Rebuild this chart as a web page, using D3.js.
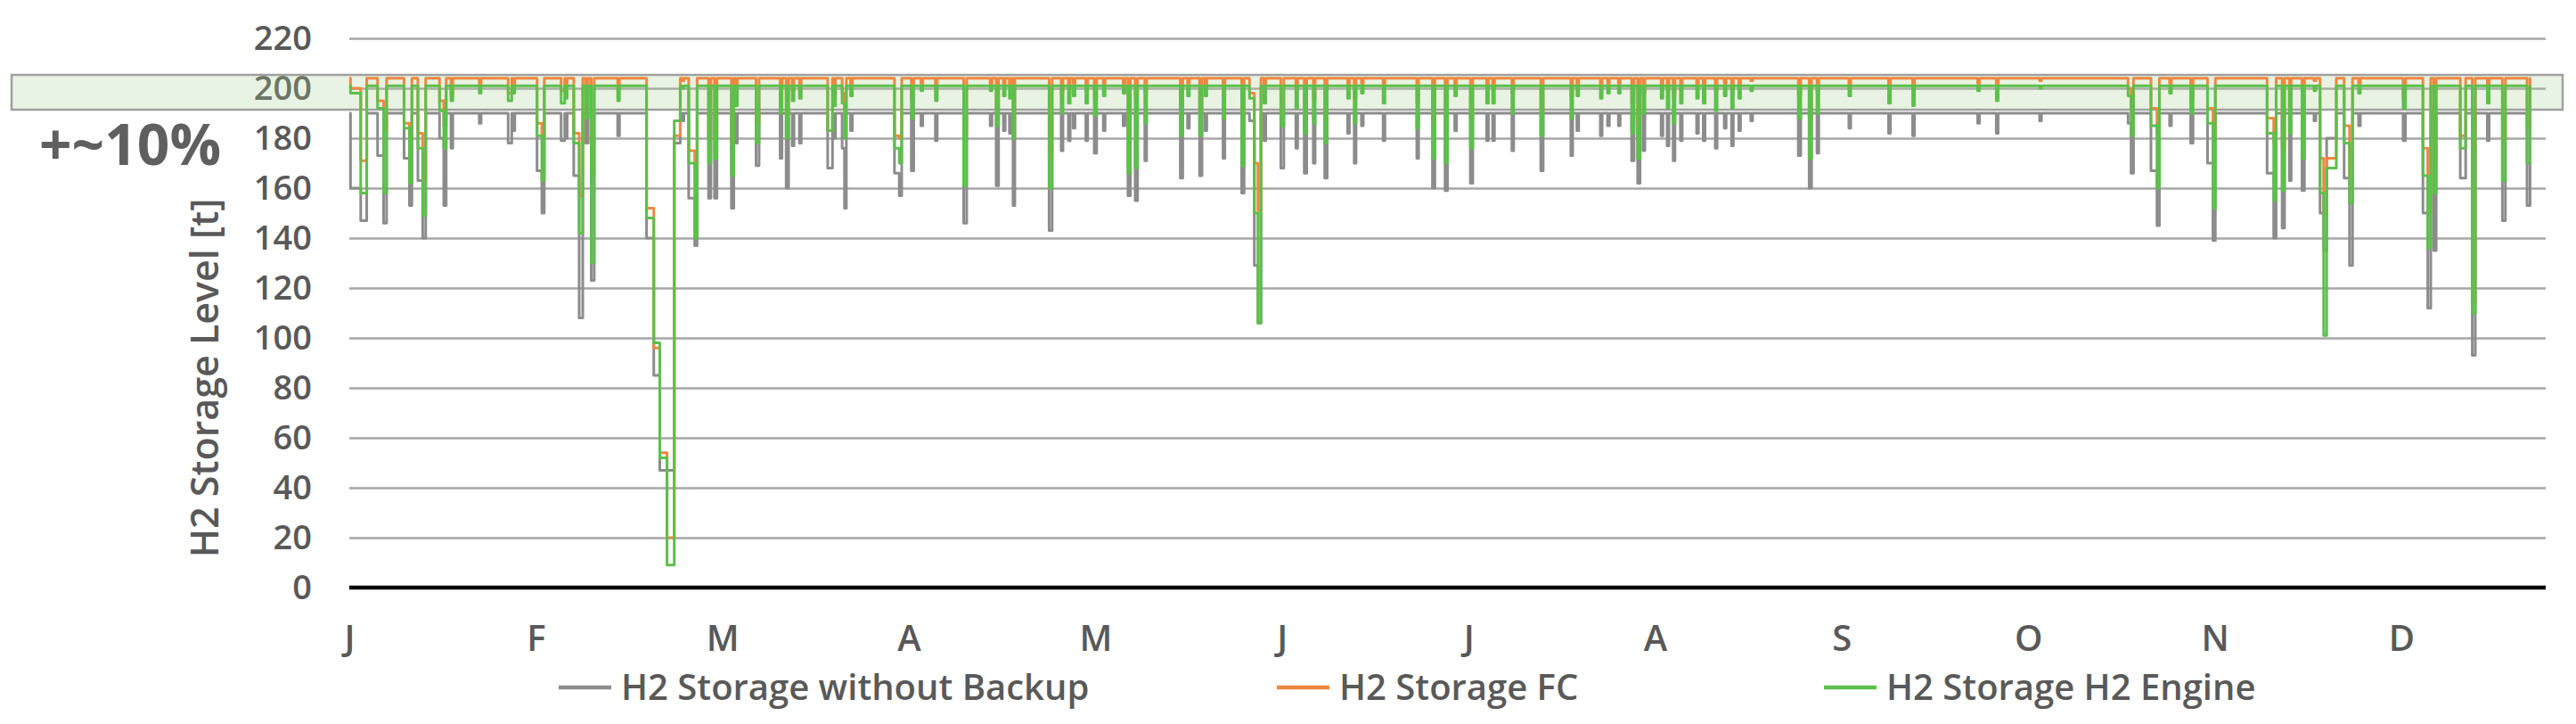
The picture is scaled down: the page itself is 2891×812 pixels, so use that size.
<!DOCTYPE html>
<html>
<head>
<meta charset="utf-8">
<script src="https://cdn.jsdelivr.net/npm/d3@7"></script>
<style>
	body { margin: 0; background: #ffffff; }
	#graphicContainer { width: 2891px; height: 812px; }
	text { font-family: "Open Sans", sans-serif; }
</style>
</head>
<body>
<div id="graphicContainer"></div>
<script>

// month labels (one every 31 days on the original date axis)
const months = ["J", "F", "M", "A", "M", "J", "J", "A", "S", "O", "N", "D"]
const monthTicks = [0, 31, 62, 93, 124, 155, 186, 217, 248, 279, 310, 341]
const yTicks = [0, 20, 40, 60, 80, 100, 120, 140, 160, 180, 200, 220]

const seriesNames = ["H2 Storage without Backup", "H2 Storage FC", "H2 Storage H2 Engine"]
// level the storage sits at between discharge events [t]
const baseLevels = [190, 204, 201]
const dataEnd = 362.5

// discharge events:
// [day, duration in days, without backup, FC, H2 engine]
const dipsJanMar = [
	[0.2, 1.7, 160, 200, 198], [1.9, 1.0, 147, 171, 158],
	[4.7, 1.0, 173, 195, 192], [5.7, 0.5, 146, 183, 158],
	[9.1, 0.9, 172, 186, 184], [10.0, 0.4, 153, 180, 162],
	[11.4, 0.8, 163, 182, 176], [12.2, 0.5, 140, 163, 149],
	[15.0, 0.7, 180, 195, 191], [15.7, 0.4, 153, 185, 176],
	[16.9, 0.3, 176, 197, 195], [21.6, 0.3, 186, 201, 198],
	[26.4, 0.6, 178, 198, 195], [27.2, 0.3, 183, 201, 198],
	[31.2, 0.8, 167, 186, 181], [32.0, 0.4, 150, 180, 163],
	[35.2, 0.6, 179, 199, 194], [35.9, 0.3, 180, 200, 196],
	[37.3, 0.9, 165, 182, 178], [38.2, 0.6, 108, 157, 142],
	[39.3, 0.4, 178, 192, 188], [40.2, 0.5, 123, 165, 130],
	[44.6, 0.3, 181, 200, 195],
	[49.4, 1.2, 140, 152, 148], [50.6, 1.0, 85, 96, 98],
	[51.6, 1.2, 47, 54, 52], [52.8, 1.2, 47, 20, 9],
	[54.0, 1.0, 178, 181, 187],
	[55.3, 0.3, 187, 203, 200],
	[56.4, 1.0, 156, 175, 170], [57.4, 0.4, 137, 168, 140],
	[59.7, 0.4, 156, 180, 170], [60.7, 0.4, 156, 182, 172],
	[63.5, 0.4, 152, 178, 165], [64.2, 0.3, 178, 198, 193],
	[67.6, 0.5, 169, 186, 178],
	[71.6, 0.3, 172, 195, 190], [72.6, 0.4, 160, 190, 180],
	[73.6, 0.3, 177, 199, 195], [74.8, 0.3, 178, 199, 196],
	[79.5, 0.8, 168, 183, 183], [80.5, 0.3, 180, 196, 193],
	[81.9, 0.4, 176, 198, 194], [82.3, 0.3, 152, 190, 180],
	[83.3, 0.3, 183, 201, 197]
]

const dipsAprJun = [
	[90.6, 0.8, 166, 181, 176], [91.4, 0.4, 157, 180, 170],
	[93.4, 0.4, 167, 195, 188], [95.0, 0.3, 185, 202, 199],
	[97.4, 0.3, 179, 199, 195], [102.1, 0.5, 146, 182, 161],
	[106.5, 0.3, 185, 202, 199], [107.5, 0.4, 161, 192, 185],
	[108.7, 0.3, 183, 201, 197], [109.7, 0.3, 182, 200, 196],
	[110.3, 0.3, 153, 190, 180],
	[116.3, 0.5, 143, 172, 160],
	[118.3, 0.3, 175, 198, 190], [119.5, 0.3, 179, 200, 194],
	[120.3, 0.3, 184, 202, 197], [122.4, 0.3, 179, 200, 194],
	[123.8, 0.4, 174, 196, 189], [125.3, 0.3, 183, 202, 197],
	[128.6, 0.3, 185, 202, 198], [129.4, 0.4, 157, 182, 166],
	[130.6, 0.4, 155, 196, 168], [132.2, 0.3, 171, 198, 186],
	[138.1, 0.4, 164, 190, 181], [139.3, 0.3, 184, 202, 197],
	[141.3, 0.4, 165, 190, 181], [142.2, 0.3, 183, 201, 197],
	[145.2, 0.3, 172, 197, 188], [148.3, 0.4, 158, 186, 169],
	[149.6, 0.8, 187, 198, 196], [150.4, 0.6, 129, 170, 150],
	[151.0, 0.5, 106, 151, 106],
	[152.0, 0.3, 179, 200, 194], [154.8, 0.5, 168, 190, 185],
	[157.3, 0.3, 176, 199, 192], [158.7, 0.4, 166, 192, 182],
	[160.2, 0.3, 170, 195, 186], [162.1, 0.4, 164, 188, 178],
	[165.9, 0.3, 182, 201, 196], [167.0, 0.3, 170, 196, 186],
	[168.2, 0.3, 185, 202, 198], [171.8, 0.3, 179, 200, 194],
	[177.4, 0.3, 172, 194, 184], [180.0, 0.4, 160, 186, 172]
]

const dipsJulSep = [
	[182.1, 0.4, 159, 185, 170], [183.7, 0.3, 183, 201, 197],
	[186.3, 0.4, 162, 188, 176], [189.0, 0.3, 179, 200, 194],
	[190.0, 0.3, 179, 200, 194], [193.2, 0.3, 175, 198, 190],
	[198.0, 0.4, 167, 190, 181], [203.0, 0.3, 173, 197, 188],
	[204.0, 0.3, 183, 201, 197], [207.9, 0.3, 181, 201, 196],
	[209.1, 0.3, 185, 202, 198], [210.9, 0.3, 185, 202, 198],
	[213.1, 0.4, 171, 194, 182], [214.1, 0.4, 162, 186, 172],
	[215.0, 0.3, 175, 198, 190], [218.0, 0.3, 181, 201, 196],
	[219.0, 0.3, 177, 199, 192], [220.0, 0.3, 171, 196, 186],
	[221.2, 0.3, 179, 200, 194], [223.9, 0.3, 182, 201, 196],
	[225.0, 0.3, 179, 200, 194], [227.0, 0.3, 176, 199, 191],
	[228.5, 0.3, 184, 202, 197], [229.7, 0.3, 177, 199, 192],
	[230.9, 0.3, 183, 201, 196], [232.9, 0.3, 187, 203, 199],
	[240.8, 0.4, 173, 197, 188],
	[242.6, 0.4, 160, 188, 172], [243.9, 0.3, 174, 198, 190],
	[249.2, 0.3, 184, 200, 197], [255.8, 0.3, 182, 200, 194],
	[259.8, 0.3, 181, 200, 193], [270.6, 0.3, 186, 202, 199],
	[273.7, 0.3, 182, 201, 195]
]

const dipsOctDec = [
	[280.9, 0.3, 187, 203, 200],
	[295.6, 0.5, 186, 200, 197], [296.1, 0.4, 166, 190, 181],
	[299.4, 1.0, 167, 192, 185], [300.4, 0.4, 145, 182, 160],
	[302.5, 0.3, 185, 202, 198], [306.0, 0.4, 178, 196, 190],
	[308.8, 0.9, 170, 192, 186], [309.7, 0.4, 139, 180, 152],
	[318.7, 1.1, 166, 188, 182], [319.8, 0.4, 140, 178, 155],
	[321.2, 0.4, 144, 176, 159], [322.4, 0.3, 163, 192, 182],
	[324.5, 0.4, 159, 190, 172], [326.5, 0.3, 187, 203, 199],
	[327.5, 0.6, 150, 172, 158], [328.1, 0.5, 135, 150, 101],
	[328.6, 1.6, 180, 172, 168],
	[331.5, 0.9, 164, 185, 178], [332.4, 0.5, 129, 165, 154],
	[333.9, 0.3, 185, 202, 198], [341.3, 0.4, 179, 196, 192],
	[344.6, 0.8, 150, 176, 165], [345.4, 0.5, 112, 150, 136],
	[346.4, 0.4, 135, 170, 158], [350.8, 0.9, 164, 181, 176],
	[352.8, 0.5, 93, 114, 110], [355.3, 0.3, 179, 200, 194],
	[357.8, 0.5, 147, 180, 163], [361.9, 0.5, 153, 185, 170]
]

function init() {

	const width = 2891
	const height = 812
	const margin = {top: 43, right: 34, bottom: 153, left: 392}

	const colors = ["#8c8c8c", "#f0873f", "#5dbf4c"]
	const textColor = "#595959"

	const svg = d3.select("#graphicContainer").append("svg")
		.attr("width", width)
		.attr("height", height)

	const x = d3.scaleLinear()
		.domain([0, 365])
		.range([margin.left, width - margin.right])

	const y = d3.scaleLinear()
		.domain([0, 220])
		.range([height - margin.bottom, margin.top])

	// gridlines
	svg.append("g")
		.attr("transform", "translate(" + margin.left + ",0)")
		.call(d3.axisLeft(y).tickValues(yTicks).tickSize(-(x.range()[1] - x.range()[0])).tickFormat(""))
		.call(g => g.select(".domain").remove())
		.selectAll("line")
		.attr("stroke", "#a6a6a6")
		.attr("stroke-width", 2.5)

	// y labels
	svg.append("g")
		.attr("transform", "translate(" + margin.left + ",0)")
		.call(d3.axisLeft(y).tickValues(yTicks).tickSize(0).tickPadding(42))
		.call(g => g.select(".domain").remove())
		.selectAll("text")
		.attr("font-family", "Open Sans")
		.attr("font-size", 38)
		.attr("font-weight", 600)
		.attr("fill", textColor)

	// x labels
	svg.append("g")
		.attr("transform", "translate(0," + y(0) + ")")
		.call(d3.axisBottom(x).tickValues(monthTicks).tickSize(0).tickPadding(43).tickFormat((d, i) => months[i]))
		.call(g => g.select(".domain").remove())
		.selectAll("text")
		.attr("font-family", "Open Sans")
		.attr("font-size", 40)
		.attr("font-weight", 600)
		.attr("fill", textColor)

	// y title
	svg.append("text")
		.attr("transform", "translate(230,424) rotate(-90)")
		.attr("text-anchor", "middle")
		.attr("dy", "0.35em")
		.attr("font-size", 43)
		.attr("font-weight", 600)
		.attr("fill", textColor)
		.text("H2 Storage Level [t]")

	// the highlighted band
	svg.append("rect")
		.attr("x", 13)
		.attr("y", 84)
		.attr("width", 2876 - 13)
		.attr("height", 123 - 84)
		.attr("fill", "#a9d18e")
		.attr("fill-opacity", 0.25)
		.attr("stroke", "#a0a0a0")
		.attr("stroke-width", 2.5)

	svg.append("text")
		.attr("x", 44)
		.attr("y", 185)
		.attr("font-size", 64)
		.attr("font-weight", "bold")
		.attr("fill", "#5f5f5f")
		.text("+~10%")

	const dips = [].concat(dipsJanMar, dipsAprJun, dipsJulSep, dipsOctDec)

	function buildSeries(k) {
		const base = baseLevels[k]
		const pts = [[0, base]]
		dips.forEach(function(d, i) {
			const prev = dips[i - 1]
			const next = dips[i + 1]
			const chainPrev = prev && d[0] <= prev[0] + prev[1] + 0.01
			const chainNext = next && next[0] <= d[0] + d[1] + 0.01
			if (!chainPrev) pts.push([d[0], base])
			pts.push([d[0], d[2 + k]])
			pts.push([d[0] + d[1], d[2 + k]])
			if (!chainNext) pts.push([d[0] + d[1], base])
		})
		pts.push([dataEnd, base])
		return pts
	}

	const line = d3.line()
		.x(d => x(d[0]))
		.y(d => y(d[1]))

	svg.append("g")
		.selectAll("path")
		.data([0, 1, 2])
		.enter()
		.append("path")
		.attr("d", k => line(buildSeries(k)))
		.attr("fill", "none")
		.attr("stroke", k => colors[k])
		.attr("stroke-width", 3)
		.attr("stroke-linejoin", "round")

	// zero line
	svg.append("line")
		.attr("x1", x(0))
		.attr("x2", x(365))
		.attr("y1", y(0))
		.attr("y2", y(0))
		.attr("stroke", "#000")
		.attr("stroke-width", 4.5)

	// legend
	const legendX = [627, 1433, 2047]
	const legend = svg.append("g")
		.selectAll("g")
		.data(seriesNames)
		.enter()
		.append("g")
		.attr("transform", (d, i) => "translate(" + legendX[i] + ",771)")

	legend.append("line")
		.attr("x1", 0)
		.attr("x2", 59)
		.attr("stroke", (d, i) => colors[i])
		.attr("stroke-width", 4.5)

	legend.append("text")
		.attr("x", 70)
		.attr("dy", "0.35em")
		.attr("font-size", 40)
		.attr("font-weight", 600)
		.attr("fill", textColor)
		.text(d => d)
}

init()

</script>
</body>
</html>
